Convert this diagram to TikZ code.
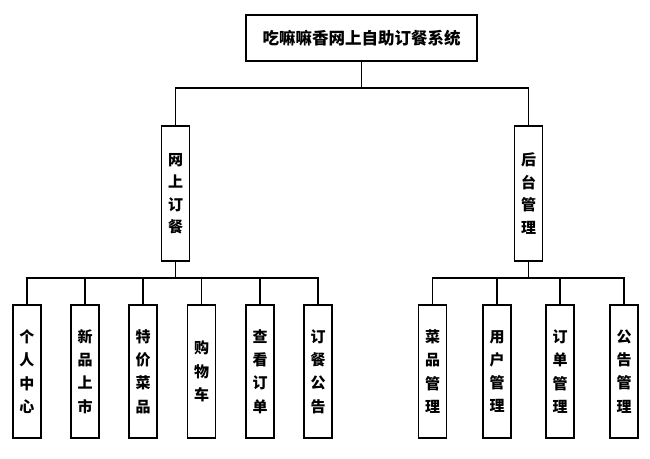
\documentclass[tikz,border=0pt]{standalone}
\usepackage{fontspec}
\newfontfamily\cjk{Noto Sans CJK SC}
\usetikzlibrary{positioning}
\tikzset{
  box/.style={draw=black, line width=1.6pt, fill=white, inner sep=0pt, font=\cjk\bfseries},
  vbox/.style={box, minimum width=28pt, minimum height=133pt, align=center, font=\cjk\bfseries\fontsize{15pt}{23.3pt}\selectfont},
  mbox/.style={box, minimum width=28pt, minimum height=135pt, align=center, font=\cjk\bfseries\fontsize{15pt}{22.5pt}\selectfont},
  link/.style={draw=black, line width=1.3pt},
}
\begin{document}
\begin{tikzpicture}[x=1pt, y=-1pt]
\useasboundingbox (0,0) rectangle (650,458);
\node[box, minimum width=231pt, minimum height=46pt, font=\cjk\bfseries\fontsize{16.5pt}{18pt}\selectfont] (top) at (361.5,38) {吃嘛嘛香网上自助订餐系统};
\node[mbox] (L) at (175.5,193.5) {网\\上\\订\\餐};
\node[mbox] (R) at (528.5,193.5) {后\\台\\管\\理};
\foreach \n/\x/\t in {a1/27/{个\\人\\中\\心}, a2/85/{新\\品\\上\\市}, a3/143/{特\\价\\菜\\品}, a4/201.5/{购\\物\\车}, a5/260/{查\\看\\订\\单}, a6/318/{订\\餐\\公\\告},
  b1/432.5/{菜\\品\\管\\理}, b2/497/{用\\户\\管\\理}, b3/560/{订\\单\\管\\理}, b4/624/{公\\告\\管\\理}}
  \node[vbox] (\n) at (\x,371.5) {\t};
\coordinate (j0) at (361.5,88);
\draw[link] (top.south) -- (j0);
\draw[link] (j0) -| (L.north);
\draw[link] (j0) -| (R.north);
\coordinate (jL) at (175.5,278);
\coordinate (jR) at (528.5,278);
\draw[link] (L.south) -- (jL);
\draw[link] (R.south) -- (jR);
\foreach \n in {a1,a2,a3,a4,a5,a6} \draw[link] (jL) -| (\n.north);
\foreach \n in {b1,b2,b3,b4} \draw[link] (jR) -| (\n.north);
\end{tikzpicture}
\end{document}
